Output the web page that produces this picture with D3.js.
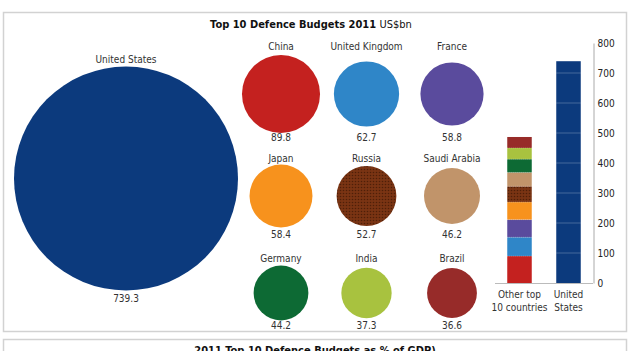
<!DOCTYPE html>
<html>
<head>
<meta charset="UTF-8">
<script src="https://cdn.jsdelivr.net/npm/d3@7"></script>
<style>
  body { margin: 0; background: #fff; }
  svg { display: block; }
  text { font-family: "DejaVu Sans Condensed", "DejaVu Sans", sans-serif; font-stretch: condensed; fill: #333; }
</style>
</head>
<body>
<script>
// data
var countries = ["China", "United Kingdom", "France", "Japan", "Russia", "Saudi Arabia", "Germany", "India", "Brazil"];
var budgets = [89.8, 62.7, 58.8, 58.4, 52.7, 46.2, 44.2, 37.3, 36.6];
var colours = ["#c4211f", "#2f86c8", "#5a4b9d", "#f7921d", "#7a3413", "#c1946a", "#0d6a34", "#a8c23f", "#972b29"];
var usName = "United States";
var usBudget = 739.3;
var usColour = "#0c3a7d";
var barCats = ["Other top\n10 countries", "United\nStates"];
var axisTicks = [0, 100, 200, 300, 400, 500, 600, 700, 800];

var width = 630, height = 351;
var fs = "10px";
var svg = d3.select("body").append("svg").attr("width", width).attr("height", height);

// hatch for russia
var defs = svg.append("defs");
var pat = defs.append("pattern").attr("id", "hatch")
  .attr("width", 3).attr("height", 3).attr("patternUnits", "userSpaceOnUse");
pat.append("rect").attr("width", 3).attr("height", 3).attr("fill", "#7a3413");
pat.append("circle").attr("cx", 1.5).attr("cy", 1.5).attr("r", 0.8).attr("fill", "#4f1f08");

// frames
svg.append("rect").attr("x", 3.5).attr("y", 12.5).attr("width", 623).attr("height", 319)
  .attr("fill", "none").attr("stroke", "#d2d2d2").attr("stroke-width", 1.5);
svg.append("rect").attr("x", 3.5).attr("y", 339.5).attr("width", 623).attr("height", 40)
  .attr("fill", "none").attr("stroke", "#d2d2d2").attr("stroke-width", 1.5);

var title = svg.append("text").attr("x", 311).attr("y", 28).attr("text-anchor", "middle")
  .style("font-size", "11px").style("fill", "#111");
title.append("tspan").style("font-weight", "bold").text("Top 10 Defence Budgets 2011 ");
title.append("tspan").text("US$bn");

svg.append("text").attr("x", 315).attr("y", 354).attr("text-anchor", "middle")
  .style("font-size", "11px").style("font-weight", "bold").style("fill", "#111")
  .text("2011 Top 10 Defence Budgets as % of GDP)");

// circle sizes by area
var r = d3.scaleSqrt().domain([0, usBudget]).range([0, 112]);

// big US circle
var us = svg.append("g");
us.append("text").attr("x", 126).attr("y", 63).attr("text-anchor", "middle")
  .style("font-size", fs).text(usName);
us.append("circle").attr("cx", 126).attr("cy", 178.5).attr("r", r(usBudget)).attr("fill", usColour);
us.append("text").attr("x", 126).attr("y", 302).attr("text-anchor", "middle")
  .style("font-size", fs).text(usBudget.toFixed(1));

// 3x3 grid
var colX = d3.scalePoint().domain([0, 1, 2]).range([281, 452]);
var rowY = [94, 196, 293];
var labelY = [50, 162, 262];
var valueY = [141, 238, 329];

var cells = svg.selectAll("g.cell").data(countries).enter().append("g").attr("class", "cell");
cells.append("circle")
  .attr("cx", function(d, i) { return colX(i % 3); })
  .attr("cy", function(d, i) { return rowY[Math.floor(i / 3)]; })
  .attr("r", function(d, i) { return r(budgets[i]); })
  .attr("fill", function(d, i) { return d == "Russia" ? "url(#hatch)" : colours[i]; });
cells.append("text")
  .attr("x", function(d, i) { return colX(i % 3); })
  .attr("y", function(d, i) { return labelY[Math.floor(i / 3)]; })
  .attr("text-anchor", "middle").style("font-size", fs)
  .text(function(d) { return d; });
cells.append("text")
  .attr("x", function(d, i) { return colX(i % 3); })
  .attr("y", function(d, i) { return valueY[Math.floor(i / 3)]; })
  .attr("text-anchor", "middle").style("font-size", fs)
  .text(function(d, i) { return budgets[i].toFixed(1); });

// bar chart
var y = d3.scaleLinear().domain([0, 800]).range([283, 43]);
var x = d3.scaleBand().domain(barCats).range([495, 593]).paddingInner(0.5).paddingOuter(0.25);

svg.append("line").attr("x1", 495).attr("x2", 593).attr("y1", 283.5).attr("y2", 283.5)
  .attr("stroke", "#bbb");

var stack = [], acc = 0;
budgets.forEach(function(v, i) { stack.push({y0: acc, y1: acc + v, c: colours[i], n: countries[i]}); acc += v; });

svg.selectAll("rect.seg").data(stack).enter().append("rect").attr("class", "seg")
  .attr("x", x(barCats[0])).attr("width", x.bandwidth())
  .attr("y", function(d) { return y(d.y1); })
  .attr("height", function(d) { return y(d.y0) - y(d.y1); })
  .attr("fill", function(d) { return d.n == "Russia" ? "url(#hatch)" : d.c; });
svg.selectAll("line.sep").data(stack.slice(1)).enter().append("line").attr("class", "sep")
  .attr("x1", x(barCats[0])).attr("x2", x(barCats[0]) + x.bandwidth())
  .attr("y1", function(d) { return y(d.y0); }).attr("y2", function(d) { return y(d.y0); })
  .attr("stroke", "#fff").attr("stroke-opacity", 0.5).attr("stroke-width", 0.6)
  .attr("stroke-dasharray", "1,1");

svg.append("rect").attr("x", x(barCats[1])).attr("width", x.bandwidth())
  .attr("y", y(usBudget)).attr("height", y(0) - y(usBudget)).attr("fill", usColour);
svg.selectAll("line.grid").data(axisTicks.filter(function(t) { return t > 0 && t < usBudget; }))
  .enter().append("line").attr("class", "grid")
  .attr("x1", x(barCats[1])).attr("x2", x(barCats[1]) + x.bandwidth())
  .attr("y1", function(t) { return y(t); }).attr("y2", function(t) { return y(t); })
  .attr("stroke", "#fff").attr("stroke-opacity", 0.3).attr("stroke-width", 0.8);

var ax = svg.append("g").attr("transform", "translate(593.5,0)")
  .call(d3.axisRight(y).tickValues(axisTicks).tickSize(0).tickPadding(4));
ax.select(".domain").attr("stroke", "#aaa");
ax.selectAll("text").style("font-size", fs).style("fill", "#222")
  .style("font-family", "'DejaVu Sans Condensed', 'DejaVu Sans', sans-serif");

barCats.forEach(function(c) {
  var t = svg.append("text").attr("x", x(c) + x.bandwidth() / 2).attr("y", 298)
    .attr("text-anchor", "middle").style("font-size", fs);
  c.split("\n").forEach(function(line, k) {
    t.append("tspan").attr("x", x(c) + x.bandwidth() / 2).attr("dy", k ? 13 : 0).text(line);
  });
});
</script>
</body>
</html>
